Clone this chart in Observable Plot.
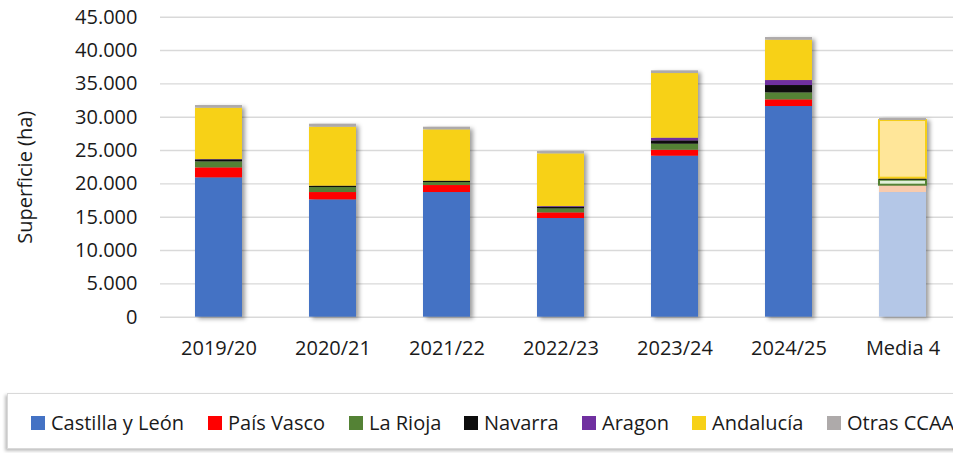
<!DOCTYPE html>
<html>
<head>
<meta charset="utf-8">
<script src="https://cdn.jsdelivr.net/npm/d3@7"></script>
<script src="https://cdn.jsdelivr.net/npm/@observablehq/plot@0.6"></script>
<style>
  html, body { margin: 0; padding: 0; background: #fff; overflow: hidden; }
  body { width: 953px; height: 453px; position: relative; font-family: "Open Sans", sans-serif; }
  #chart { position: absolute; left: 0; top: 0; }
  #chart g.bars { filter: drop-shadow(3px 2px 2px rgba(0,0,0,0.38)); }
  #legend {
    position: absolute; left: 7px; top: 393px; width: 960px; height: 56px;
    border: 1px solid #d9d9d9; box-shadow: -2px 2px 3px rgba(0,0,0,0.25);
    box-sizing: border-box; background: #fff;
  }
  #legend .item { position: absolute; top: 18px; display: flex; align-items: center; font-size: 20px; color: #1a1a1a; white-space: nowrap; line-height: 22px; }
  #legend .sw { width: 14px; height: 14px; margin-right: 6px; }
</style>
</head>
<body>
<div id="chart"></div>
<div id="legend"></div>
<script>
// ---- data ----
const seasons = ["2019/20", "2020/21", "2021/22", "2022/23", "2023/24", "2024/25", "Media 4"];
const regions = ["Castilla y León", "País Vasco", "La Rioja", "Navarra", "Aragon", "Andalucía", "Otras CCAA"];
const castillaLeon = [20900, 17600, 18700, 14800, 24150, 31600, 18700];
const paisVasco    = [1500, 1100, 1050, 850, 900, 1000, 1100];
const laRioja      = [900, 750, 450, 600, 900, 1050, 750];
const navarra      = [300, 200, 200, 250, 500, 1100, 200];
const aragon       = [50, 0, 0, 100, 400, 750, 100];
const andalucia    = [7700, 8850, 7700, 7900, 9700, 6050, 8650];
const otrasCCAA    = [400, 450, 400, 350, 400, 400, 300];
const yTicks = [0, 5000, 10000, 15000, 20000, 25000, 30000, 35000, 40000, 45000];

const regionColors = ["#4472C4", "#FF0000", "#548235", "#0D0D0D", "#7030A0", "#F7D117", "#AEAAAA"];
const mediaFills   = ["#B4C7E7", "#F8CBAD", "#E2F0D9", "#0D0D0D", "#7030A0", "#FFE699", "#AEAAAA"];
const mediaStrokes = ["none", "none", "#548235", "none", "none", "#F5CF16", "none"];

const series = [castillaLeon, paisVasco, laRioja, navarra, aragon, andalucia, otrasCCAA];
const rows = [];
seasons.forEach((s, i) => {
  regions.forEach((r, j) => {
    const media = s === "Media 4";
    rows.push({
      season: s, region: r, value: series[j][i],
      fill: media ? mediaFills[j] : regionColors[j],
      stroke: media ? mediaStrokes[j] : "none"
    });
  });
});

const fmt = d3.formatLocale({decimal: ",", thousands: ".", grouping: [3], currency: ["", "€"]}).format(",");

const chart = Plot.plot({
  width: 953,
  height: 372,
  marginLeft: 160,
  marginRight: 0,
  marginTop: 16.7,
  marginBottom: 55.3,
  style: { fontFamily: "Open Sans, sans-serif", fontSize: "20px", color: "#1a1a1a", overflow: "visible" },
  x: { domain: seasons, range: [160, 962], paddingInner: 0.585, paddingOuter: 0.2925, label: null },
  y: { domain: [0, 45000], label: null },
  color: { type: "identity" },
  marks: [
    Plot.gridY(yTicks, { stroke: "#d9d9d9", strokeOpacity: 1, strokeWidth: 1.4 }),
    Plot.barY(rows, Plot.stackY({
      x: "season", y: "value", fill: "fill", stroke: "stroke", strokeWidth: 2,
      order: null, className: "bars"
    })),
    Plot.axisY(yTicks, { tickSize: 0, tickPadding: 23, tickFormat: fmt, fontSize: 20, fill: "#1a1a1a", label: null }),
    Plot.axisX({ tickSize: 0, tickPadding: 24, fontSize: 20, fill: "#1a1a1a", label: null }),
    Plot.text(["Superficie (ha)"], { frameAnchor: "left", dx: -135, dy: 10, rotate: -90, textAnchor: "middle", fontSize: 20, fill: "#1a1a1a", text: d => d })
  ]
});
document.getElementById("chart").appendChild(chart);

// ---- legend ----
const legendX = [23, 200, 341, 456, 574, 684, 819];
const legend = document.getElementById("legend");
regions.forEach((r, j) => {
  const it = document.createElement("div");
  it.className = "item";
  it.style.left = legendX[j] + "px";
  const sw = document.createElement("span");
  sw.className = "sw";
  sw.style.background = regionColors[j];
  const tx = document.createElement("span");
  tx.textContent = r;
  it.appendChild(sw); it.appendChild(tx);
  legend.appendChild(it);
});
</script>
</body>
</html>
